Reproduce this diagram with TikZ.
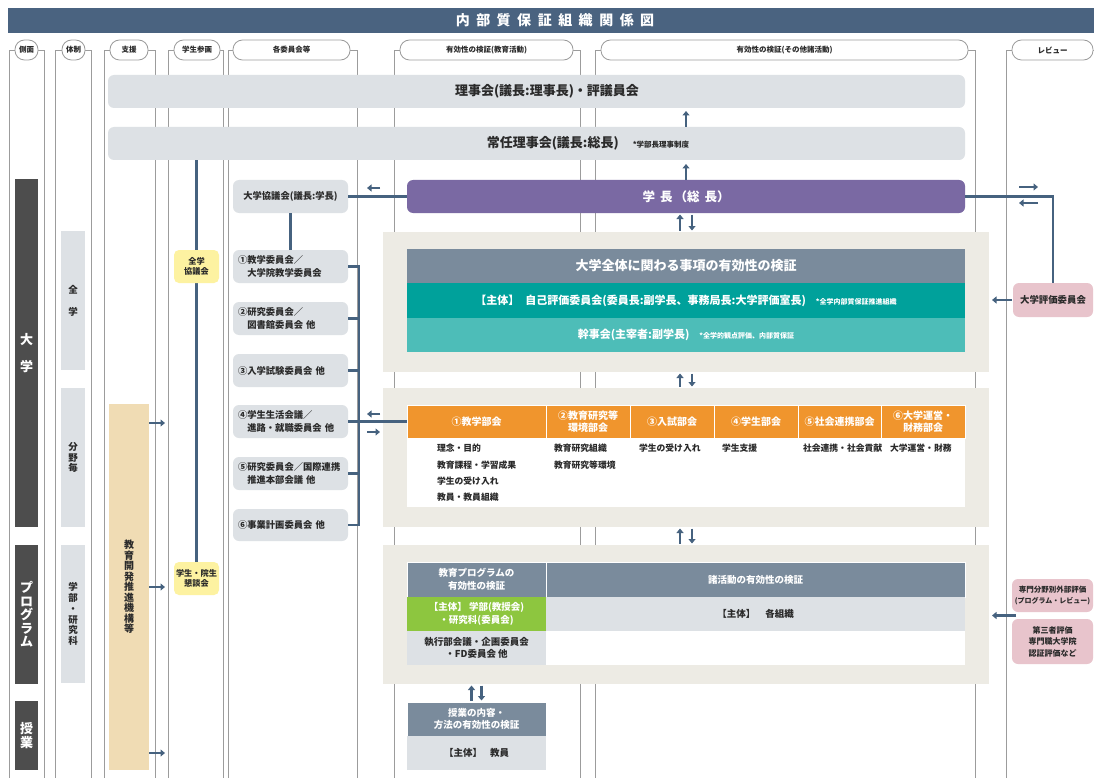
\documentclass[tikz,border=0pt]{standalone}
\usepackage{fontspec}
\setmainfont{Noto Sans CJK JP}
\usetikzlibrary{calc,arrows.meta,backgrounds}
\definecolor{navy}{HTML}{4A6380}
\definecolor{arrc}{HTML}{46627F}
\definecolor{lgray}{HTML}{DDE1E5}
\definecolor{dgray}{HTML}{4D4D4D}
\definecolor{colln}{HTML}{9C9C9C}
\definecolor{beige}{HTML}{EDEBE4}
\definecolor{purp}{HTML}{7A69A3}
\definecolor{slate}{HTML}{7A8B9C}
\definecolor{teala}{HTML}{00A19B}
\definecolor{tealb}{HTML}{4DBDB8}
\definecolor{orng}{HTML}{F0952D}
\definecolor{grn}{HTML}{8DC63F}
\definecolor{pink}{HTML}{E8C4CC}
\definecolor{yel}{HTML}{FDF2A1}
\definecolor{tanc}{HTML}{F0DCB4}
\definecolor{txt}{HTML}{2A2A2A}
\newcommand\myfs[2]{\fontsize{#1}{#2}\selectfont}
\newcommand\mybox[7]{\node[align=center,#6,minimum width={#4-#2},minimum height={#5-#3}] (#1) at ({(#2+#4)/2},{(#3+#5)/2}) {#7};}
\newcommand\mycol[6]{%
  \draw[colline] (#1,778) -- (#1,50) -- (#3,50);
  \draw[colline] (#4,50) -- (#2,50) -- (#2,778);
  \mybox{#5}{#3}{40}{#4}{60}{pill}{#6}}
\newcommand\tsp{\hspace{6.5pt}}
\begin{document}
\begin{tikzpicture}[x=1pt,y=-1pt,
  every node/.style={inner sep=0pt,outer sep=0pt,text=txt,font=\bfseries},
  colline/.style={draw=colln,line width=0.8pt},
  pill/.style={draw=colln,line width=0.8pt,fill=white,rounded corners=9.5pt,font=\bfseries\myfs{7.5}{9}},
  gbox/.style={fill=lgray,rounded corners=6pt},
  cbox/.style={fill=lgray,rounded corners=6pt,text width=105pt,align=left,font=\bfseries\myfs{9.3}{12.5}},
  ybox/.style={fill=yel,rounded corners=5pt,font=\bfseries\myfs{8.2}{10.5}},
  pbox/.style={fill=pink,rounded corners=6pt},
  sbox/.style={fill=lgray,font=\bfseries\myfs{9.5}{10.8}},
  dbox/.style={fill=dgray,text=white,font=\bfseries\myfs{13}{13.5}},
  panel/.style={fill=beige},
  ocell/.style={fill=orng,draw=white,line width=0.8pt,text=white,font=\bfseries\myfs{10}{11.5}},
  hcell/.style={fill=slate,draw=white,line width=0.6pt,text=white,font=\bfseries\myfs{9.5}{12.5}},
  item/.style={anchor=west,font=\bfseries\myfs{8.8}{10}},
  conn/.style={draw=arrc,line width=2.3pt},
  arr/.style={draw=arrc,line width=2.2pt,-{Triangle[length=4.5pt,width=7pt]}}]
\useasboundingbox (0,0) rectangle (1094,778);
\begin{scope}[on background layer]
  \fill[white] (0,0) rectangle (1094,778);
\end{scope}

% title
\mybox{title}{8}{8}{1094}{33}{fill=navy,text=white,font=\bfseries\myfs{14}{16}}{\hspace{8pt}内\tsp{}部\tsp{}質\tsp{}保\tsp{}証\tsp{}組\tsp{}織\tsp{}関\tsp{}係\tsp{}図}

% columns
\mycol{9}{44}{15}{38}{h1}{側面}
\mycol{55}{91}{62}{85}{h2}{体制}
\mycol{104}{155}{110}{148}{h3}{支援}
\mycol{168}{223}{174}{220}{h4}{学生参画}
\mycol{228}{357}{233}{350}{h5}{各委員会等}
\mycol{394}{580}{400}{573}{h6}{有効性の検証(教育活動)}
\mycol{595}{975}{601}{968}{h7}{有効性の検証(その他諸活動)}
\mycol{1006}{1100}{1012}{1093}{h8}{レビュー}

% top boards
\mybox{riji}{108}{75}{965}{108}{gbox}{}
\node[font=\bfseries\myfs{13}{15}] (rijit) at (547,91.5) {理事会(議長:理事長)・評議員会};
\mybox{joninn}{108}{127}{965}{160}{gbox}{}
\node[font=\bfseries\myfs{13}{15}] (jonint) at (588,143.5) {常任理事会(議長:総長)\hspace{14pt}{\myfs{7.5}{9}*学部長理事制度}};
\mybox{gakucho}{407}{180}{965}{213}{fill=purp,rounded corners=6pt,text=white,font=\bfseries\myfs{12.5}{14}}{学\hspace{5pt}長\hspace{2pt}（総\hspace{5pt}長）}

% side column
\mybox{s1}{15}{179}{38}{527}{dbox,font=\bfseries\myfs{13}{27}}{大\\学}
\mybox{s2}{15}{545}{38}{684}{dbox}{プ\\ロ\\グ\\ラ\\ム}
\mybox{s3}{15}{701}{38}{770}{dbox}{授\\業}

% 体制
\mybox{t1}{61}{231}{85}{370}{sbox,font=\bfseries\myfs{9.5}{22}}{全\\学}
\mybox{t2}{61}{388}{85}{527}{sbox}{分\\野\\毎}
\mybox{t3}{61}{545}{85}{683}{sbox}{学\\部\\・\\研\\究\\科}

% 支援
\mybox{kyoiku}{109}{404}{149}{770}{fill=tanc,font=\bfseries\myfs{10}{10.5}}{教\\育\\開\\発\\推\\進\\機\\構\\等}
\draw[arr] ([yshift=164pt]kyoiku.east) -- ++(16,0);
\draw[arr] (kyoiku.east) -- ++(16,0);
\draw[arr] ([yshift=-166pt]kyoiku.east) -- ++(16,0);

% 学生参画
\mybox{zenkyo}{174}{250}{219}{283}{ybox}{全学\\協議会}
\mybox{kondan}{174}{562}{219}{595}{ybox}{学生・院生\\懇談会}
\begin{scope}[on background layer]
  \draw[conn] (kondan.north |- joninn.south) -- (kondan.north);
\end{scope}

% committees
\mybox{kyogikai}{233}{180}{348}{213}{gbox,font=\bfseries\myfs{9.3}{11}}{大学協議会(議長:学長)}
\mybox{c1}{233}{250}{348}{283}{cbox}{①教学委員会／\\\hphantom{①}大学院教学委員会}
\mybox{c2}{233}{302}{348}{335}{cbox}{②研究委員会／\\\hphantom{②}図書館委員会 他}
\mybox{c3}{233}{354}{348}{387}{cbox}{③入学試験委員会 他}
\mybox{c4}{233}{405}{348}{438}{cbox}{④学生生活会議／\\\hphantom{④}進路・就職委員会 他}
\mybox{c5}{233}{457}{348}{490}{cbox}{⑤研究委員会／国際連携\\\hphantom{⑤}推進本部会議 他}
\mybox{c6}{233}{509}{348}{541}{cbox}{⑥事業計画委員会 他}

% panel 1
\mybox{p1}{383}{232}{989}{372}{panel}{}
\mybox{p1h}{407}{249}{965}{283}{fill=slate,text=white,font=\bfseries\myfs{13}{15}}{大学全体に関わる事項の有効性の検証}
\mybox{p1t}{407}{283}{965}{318}{fill=teala,text=white,font=\bfseries\myfs{11}{13}}{【主体】\hspace{6pt}自己評価委員会(委員長:副学長、事務局長:大学評価室長)\hspace{10pt}{\myfs{7}{8}*全学内部質保証推進組織}}
\mybox{p1k}{407}{318}{965}{352}{fill=tealb,text=white,font=\bfseries\myfs{11}{13}}{幹事会(主宰者:副学長)\hspace{10pt}{\myfs{7}{8}*全学的観点評価、内部質保証}}

% panel 2
\mybox{p2}{383}{388}{989}{527}{panel}{}
\mybox{p2w}{407}{438}{965}{507}{fill=white}{}
\mybox{b1}{407}{405}{546}{438}{ocell}{①教学部会}
\mybox{b2}{546}{405}{630}{438}{ocell}{②教育研究等\\環境部会}
\mybox{b3}{630}{405}{714}{438}{ocell}{③入試部会}
\mybox{b4}{714}{405}{798}{438}{ocell}{④学生部会}
\mybox{b5}{798}{405}{881}{438}{ocell}{⑤社会連携部会}
\mybox{b6}{881}{405}{965}{438}{ocell}{⑥大学運営・\\財務部会}
\node[item] (i1a) at (437,448) {理念・目的};
\node[item] (i1b) at (437,465) {教育課程・学習成果};
\node[item] (i1c) at (437,481) {学生の受け入れ};
\node[item] (i1d) at (437,497) {教員・教員組織};
\node[item] (i2a) at (554,448) {教育研究組織};
\node[item] (i2b) at (554,465) {教育研究等環境};
\node[item] (i3a) at (639,448) {学生の受け入れ};
\node[item] (i4a) at (722,448) {学生支援};
\node[item] (i5a) at (803,448) {社会連携・社会貢献};
\node[item] (i6a) at (890,448) {大学運営・財務};

% panel 3
\mybox{p3}{383}{545}{989}{684}{panel}{}
\mybox{p3a}{407}{562}{546}{597}{hcell}{教育プログラムの\\有効性の検証}
\mybox{p3b}{546}{562}{965}{597}{hcell}{諸活動の有効性の検証}
\mybox{p3c}{407}{597}{546}{631}{fill=grn,text=white,font=\bfseries\myfs{9.5}{12.5}}{【主体】 学部(教授会)\\・研究科(委員会)}
\mybox{p3d}{546}{597}{965}{631}{fill=lgray,font=\bfseries\myfs{9.5}{12.5}}{【主体】\hspace{10pt}各組織}
\mybox{p3e}{407}{631}{546}{665}{fill=lgray,font=\bfseries\myfs{9.5}{12.5}}{執行部会議・企画委員会\\・FD委員会 他}
\mybox{p3f}{546}{631}{965}{665}{fill=white}{}

% 授業
\mybox{jh}{407}{702}{546}{736}{hcell}{授業の内容・\\方法の有効性の検証}
\mybox{jb}{407}{736}{546}{770}{fill=lgray,font=\bfseries\myfs{9.5}{12.5}}{【主体】\hspace{8pt}教員}

% review boxes
\mybox{hyoka}{1013}{283}{1093}{317}{pbox,font=\bfseries\myfs{9.4}{11}}{大学評価委員会}
\mybox{senmon}{1012}{579}{1093}{612}{pbox,font=\bfseries\myfs{7.5}{10.5}}{専門分野別外部評価\\{\myfs{7}{10.5}(プログラム・レビュー)}}
\mybox{daisan}{1012}{619}{1093}{664}{pbox,font=\bfseries\myfs{8}{11.5}}{第三者評価\\専門職大学院\\認証評価など}

% connectors
\draw[conn] (kyogikai.east) -- (gakucho.west);
\draw[conn] (kyogikai.south) -- (c1.north);
\draw[conn] (gakucho.east) -| (hyoka.north);
\draw[conn] (c1.east) -- ++(11,0) -- ($(c6.east)+(11,0)$) -- (c6.east);
\draw[conn] (c2.east) -- ++(11,0);
\draw[conn] (c3.east) -- ++(11,0);
\draw[conn] (c5.east) -- ++(11,0);
\draw[conn] (c4.east) -- (b1.west);

% direction arrows
\draw[arr] (380,188) -- (367,188);
\draw[arr] (380,414) -- (367,414);
\draw[arr] (367,432) -- (380,432);
\draw[arr] (1019,187) -- (1038,187);
\draw[arr] (1038,203) -- (1019,203);

\draw[arr,shorten >=3pt] (joninn.north -| gakucho) -- (riji.south -| gakucho);
\draw[arr,shorten >=4pt] (gakucho.north) -- (joninn.south -| gakucho);

\draw[arr,shorten <=1.5pt,shorten >=1.5pt] ([xshift=-6pt]p1.north) -- ([xshift=-6pt]gakucho.south);
\draw[arr,shorten <=1.5pt,shorten >=1.5pt] ([xshift=6pt]gakucho.south) -- ([xshift=6pt]p1.north);
\draw[arr,shorten <=1.5pt,shorten >=1.5pt] ([xshift=-6pt]p2.north) -- ([xshift=-6pt]p1.south);
\draw[arr,shorten <=1.5pt,shorten >=1.5pt] ([xshift=6pt]p1.south) -- ([xshift=6pt]p2.north);
\draw[arr,shorten <=1.5pt,shorten >=1.5pt] ([xshift=-6pt]p3.north) -- ([xshift=-6pt]p2.south);
\draw[arr,shorten <=1.5pt,shorten >=1.5pt] ([xshift=6pt]p2.south) -- ([xshift=6pt]p3.north);
\draw[arr,shorten <=1.5pt,shorten >=1.5pt] ([xshift=-5pt]jh.north) -- ([xshift=-5pt]jh.north |- p3.south);
\draw[arr,shorten <=1.5pt,shorten >=1.5pt] ([xshift=5pt]jh.north |- p3.south) -- ([xshift=5pt]jh.north);

\draw[arr,shorten >=3pt] ([xshift=-1pt]hyoka.west) -- (hyoka.west -| p1.east);
\coordinate (revmid) at ($(senmon.south west)!0.5!(daisan.north west)$);
\draw[arr,shorten >=3pt] ([xshift=4pt]revmid) -- (revmid -| p3.east);
\end{tikzpicture}
\end{document}
